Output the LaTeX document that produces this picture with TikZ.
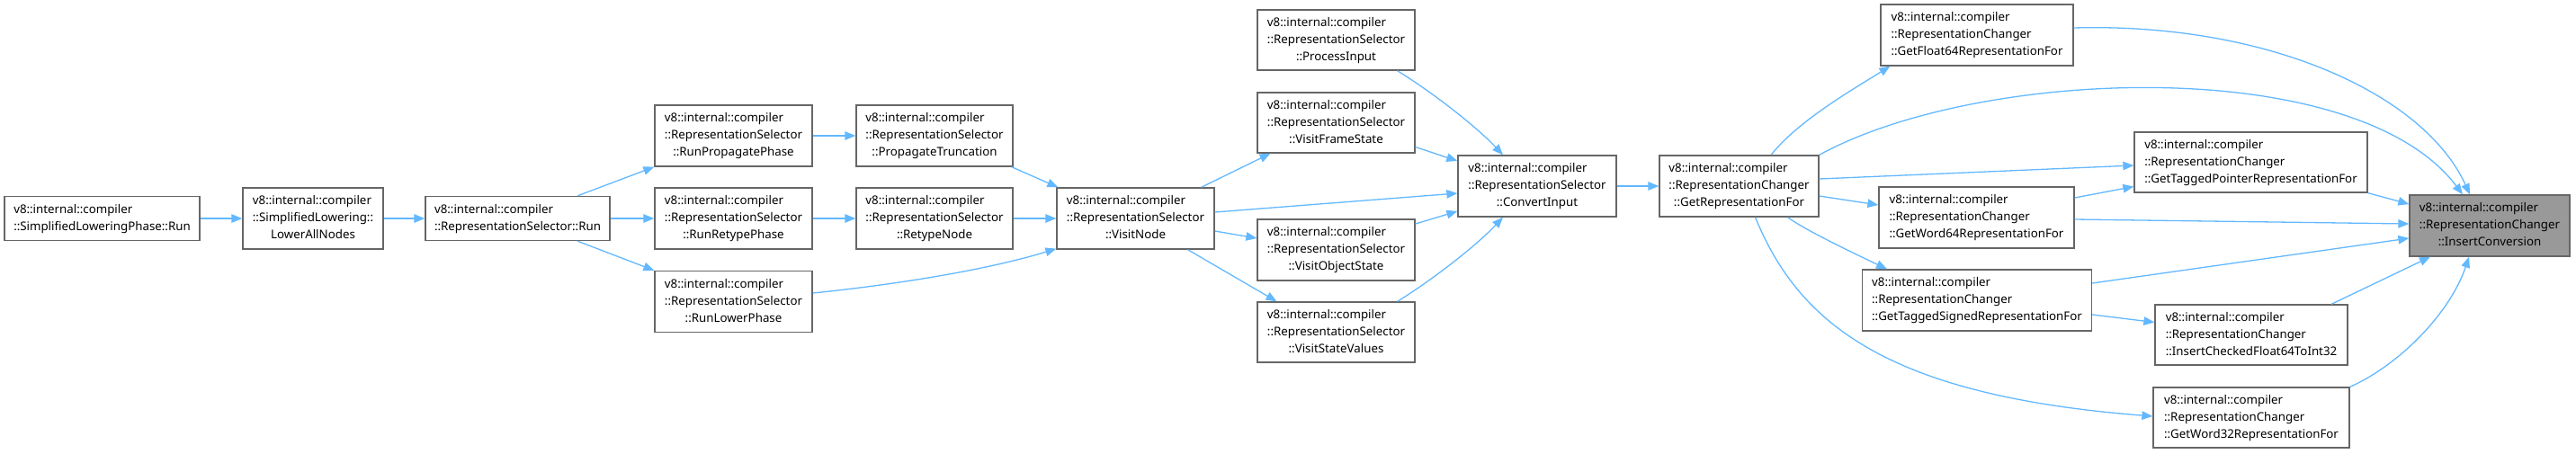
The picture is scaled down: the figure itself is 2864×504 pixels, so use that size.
\documentclass[tikz,border=0pt]{standalone}
\usepackage{fontspec}
\setmainfont{Noto Sans}
\usetikzlibrary{arrows.meta}
\definecolor{edgeblue}{HTML}{63B8FF}
\definecolor{boxgray}{HTML}{666666}
\definecolor{hlfill}{HTML}{999999}
\newcommand{\threel}[3]{\begin{tabular}{@{}l@{}}#1\\#2\\\multicolumn{1}{@{}c@{}}{#3}\end{tabular}}
\newcommand{\twol}[2]{\begin{tabular}{@{}l@{}}#1\\#2\end{tabular}}
\begin{document}
\begin{tikzpicture}[x=1pt,y=-1pt,
  fn/.style={draw=boxgray, line width=1.3pt, fill=white, inner sep=0pt, text=black,
    font=\fontsize{13.3}{19}\selectfont, minimum height=68pt},
  fntwo/.style={fn, minimum height=49pt},
  hl/.style={fn, fill=hlfill},
  edge/.style={draw=edgeblue, line width=1.3pt, -{Triangle[length=12pt,width=9.5pt]}}]
\useasboundingbox (0,0) rectangle (2864,504);

% nodes
\node[fntwo, minimum width=217pt] (slp) at (113.5,243) {\twol{v8::internal::compiler}{::SimplifiedLoweringPhase::Run}};
\node[fn, minimum width=156pt] (lan) at (348,243) {\threel{v8::internal::compiler}{::SimplifiedLowering::}{LowerAllNodes}};
\node[fntwo, minimum width=205pt] (rsr) at (575.5,243) {\twol{v8::internal::compiler}{::RepresentationSelector::Run}};
\node[fn, minimum width=175pt] (rpp) at (815.5,151) {\threel{v8::internal::compiler}{::RepresentationSelector}{::RunPropagatePhase}};
\node[fn, minimum width=175pt] (rrp) at (815.5,243) {\threel{v8::internal::compiler}{::RepresentationSelector}{::RunRetypePhase}};
\node[fn, minimum width=175pt] (rlp) at (815.5,335.5) {\threel{v8::internal::compiler}{::RepresentationSelector}{::RunLowerPhase}};
\node[fn, minimum width=174pt] (ptr) at (1039,151) {\threel{v8::internal::compiler}{::RepresentationSelector}{::PropagateTruncation}};
\node[fn, minimum width=174pt] (rtn) at (1039,243) {\threel{v8::internal::compiler}{::RepresentationSelector}{::RetypeNode}};
\node[fn, minimum width=175pt] (vn) at (1262.5,243) {\threel{v8::internal::compiler}{::RepresentationSelector}{::VisitNode}};
\node[fn, minimum width=175pt, minimum height=67pt] (pi) at (1485.5,44.5) {\threel{v8::internal::compiler}{::RepresentationSelector}{::ProcessInput}};
\node[fn, minimum width=175pt, minimum height=67pt] (vfs) at (1485.5,136.5) {\threel{v8::internal::compiler}{::RepresentationSelector}{::VisitFrameState}};
\node[fn, minimum width=175pt] (vos) at (1485.5,278) {\threel{v8::internal::compiler}{::RepresentationSelector}{::VisitObjectState}};
\node[fn, minimum width=175pt, minimum height=67pt] (vsv) at (1485.5,369.5) {\threel{v8::internal::compiler}{::RepresentationSelector}{::VisitStateValues}};
\node[fn, minimum width=176pt] (ci) at (1709,207) {\threel{v8::internal::compiler}{::RepresentationSelector}{::ConvertInput}};
\node[fn, minimum width=177pt] (gr) at (1933.5,207) {\threel{v8::internal::compiler}{::RepresentationChanger}{::GetRepresentationFor}};
\node[fn, minimum width=214pt] (gf) at (2198,39) {\threel{v8::internal::compiler}{::RepresentationChanger}{::GetFloat64RepresentationFor}};
\node[fn, minimum width=217pt] (gw64) at (2197.5,242) {\threel{v8::internal::compiler}{::RepresentationChanger}{::GetWord64RepresentationFor}};
\node[fn, minimum width=255pt] (gts) at (2198,334) {\threel{v8::internal::compiler}{::RepresentationChanger}{::GetTaggedSignedRepresentationFor}};
\node[fn, minimum width=259pt, minimum height=67pt] (gtp) at (2502.5,180.5) {\threel{v8::internal::compiler}{::RepresentationChanger}{::GetTaggedPointerRepresentationFor}};
\node[fn, minimum width=214pt, minimum height=67pt] (icf) at (2503,372.5) {\threel{v8::internal::compiler}{::RepresentationChanger}{::InsertCheckedFloat64ToInt32}};
\node[fn, minimum width=218pt, minimum height=67pt] (gw32) at (2503,464.5) {\threel{v8::internal::compiler}{::RepresentationChanger}{::GetWord32RepresentationFor}};
\node[hl, minimum width=178pt] (ic) at (2768,251) {\threel{v8::internal::compiler}{::RepresentationChanger}{::InsertConversion}};

% edges
\draw[edge] (slp.east) -- (lan.west);
\draw[edge] (lan.east) -- (rsr.west);
\draw[edge] ([xshift=66.5pt]rsr.north) -- (rpp.south west);
\draw[edge] (rsr.east) -- (rrp.west);
\draw[edge] ([xshift=66.5pt]rsr.south) -- (rlp.north west);
\draw[edge] (rpp.east) -- (ptr.west);
\draw[edge] (rrp.east) -- (rtn.west);
\draw[edge] ([xshift=-2pt]ptr.south east) -- ([xshift=2pt]vn.north west);
\draw[edge] (rtn.east) -- (vn.west);
\draw[edge] ([yshift=9.5pt]rlp.east) .. controls +(97,-10) and +(-75,23) .. ([yshift=1pt]vn.south west);
\draw[edge] ([xshift=73pt]vn.north) -- ([xshift=-73pt]vfs.south);
\draw[edge] ([yshift=7pt]vn.east) -- ([yshift=-8pt]ci.west);
\draw[edge] ([yshift=-14pt]vn.east) -- ([yshift=13pt]vos.west);
\draw[edge] ([xshift=58pt]vn.south) -- ([xshift=-66pt]vsv.north);
\draw[edge] ([xshift=68pt]pi.south) .. controls +(36,22) and +(-31,-33) .. ([xshift=-38pt]ci.north);
\draw[edge] ([yshift=-27pt]vfs.east) -- ([yshift=28pt]ci.west);
\draw[edge] ([yshift=29pt]vos.east) -- ([yshift=-28pt]ci.west);
\draw[edge] ([xshift=68pt]vsv.north) .. controls +(36,-22) and +(-31,33) .. ([xshift=-38pt]ci.south);
\draw[edge] (ci.east) -- (gr.west);
\draw[edge] ([xshift=35.5pt]gr.north) .. controls +(30,-38) and +(-40,25) .. ([xshift=11pt]gf.south west);
\draw[edge] (gr.north east) .. controls +(178,-98) and +(-118,-157) .. ([xshift=-30pt]ic.north);
\draw[edge] ([yshift=8pt]gr.east) -- ([yshift=-3.5pt]gtp.west);
\draw[edge] ([yshift=-11pt]gr.east) -- ([yshift=14pt]gw64.west);
\draw[edge] ([xshift=54pt]gr.south) .. controls +(20,15) and +(-25,-12) .. ([xshift=-100pt]gts.north);
\draw[edge] ([xshift=18pt]gr.south) .. controls +(48.5,119) and +(-294,-23) .. ([yshift=1.5pt]gw32.west);
\draw[edge] ([yshift=8pt]gf.east) .. controls +(215,-6) and +(-51,-112) .. ([xshift=-22pt]ic.north);
\draw[edge] (gtp.south east) -- ([yshift=24pt]ic.west);
\draw[edge] ([yshift=22pt]gw64.east) -- ([yshift=-27pt]gtp.west);
\draw[edge] ([yshift=-2pt]gw64.east) -- ([yshift=2pt]ic.west);
\draw[edge] ([yshift=19pt]gts.east) -- ([yshift=-14pt]ic.west);
\draw[edge] ([yshift=-16pt]gts.east) -- ([yshift=14pt]icf.west);
\draw[edge] ([xshift=89pt]icf.north) -- ([xshift=-66pt]ic.south);
\draw[edge] (gw32.north east) .. controls +(58,-26) and +(-20,60) .. ([xshift=-23pt]ic.south);
\end{tikzpicture}
\end{document}
